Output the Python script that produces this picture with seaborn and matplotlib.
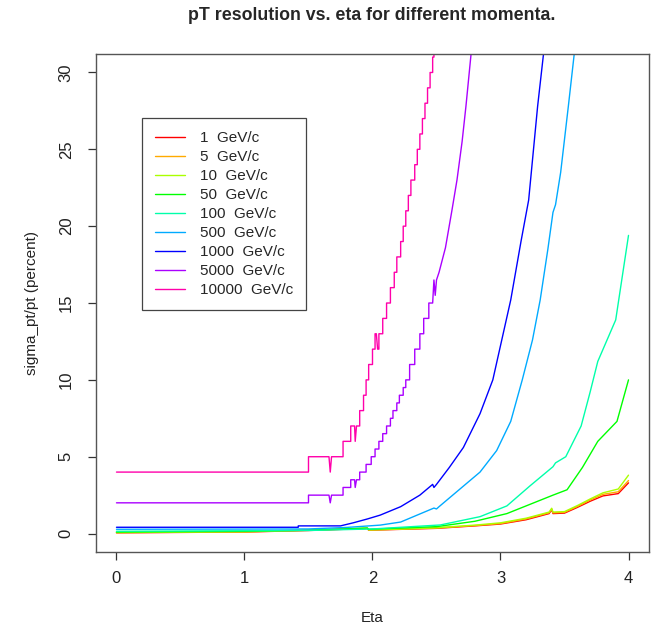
import matplotlib
matplotlib.use("Agg")
import matplotlib.pyplot as plt
import seaborn as sns

# -----------------------------------------------------------------------------
# DATA
# -----------------------------------------------------------------------------
momenta = [1, 5, 10, 50, 100, 500, 1000, 5000, 10000]
colors = ["#FF0000", "#FFAA00", "#AAFF00", "#00FF00", "#00FFAA",
          "#00AAFF", "#0000FF", "#AA00FF", "#FF00AA"]

eta_1 = [0.0, 1.0, 1.5, 1.96, 1.97, 2.2, 2.5, 2.8, 3.0, 3.2, 3.38, 3.4, 3.41,
         3.5, 3.6, 3.7, 3.8, 3.92, 4.0]
val_1 = [0.05, 0.1, 0.2, 0.33, 0.22, 0.27, 0.34, 0.5, 0.62, 0.9, 1.3, 1.55, 1.3,
         1.33, 1.7, 2.1, 2.45, 2.6, 3.3]

eta_5 = [0.0, 1.0, 1.5, 1.96, 1.97, 2.2, 2.5, 2.8, 3.0, 3.2, 3.38, 3.4, 3.41,
         3.5, 3.6, 3.7, 3.8, 3.92, 4.0]
val_5 = [0.06, 0.11, 0.21, 0.34, 0.23, 0.28, 0.36, 0.52, 0.65, 0.95, 1.35, 1.6, 1.35,
         1.38, 1.76, 2.18, 2.55, 2.72, 3.45]

eta_10 = [0.0, 1.0, 1.5, 1.96, 1.97, 2.2, 2.5, 2.8, 3.0, 3.2, 3.38, 3.4, 3.41,
          3.5, 3.6, 3.7, 3.8, 3.92, 4.0]
val_10 = [0.07, 0.12, 0.22, 0.35, 0.24, 0.29, 0.38, 0.55, 0.7, 1.0, 1.4, 1.65, 1.4,
          1.43, 1.82, 2.25, 2.65, 2.9, 3.8]

eta_50 = [0.0, 1.0, 1.5, 1.96, 1.97, 2.5, 2.8, 3.05, 3.23, 3.41, 3.52, 3.64,
          3.76, 3.91, 4.0]
val_50 = [0.1, 0.15, 0.22, 0.36, 0.28, 0.45, 0.8, 1.3, 1.9, 2.5, 2.85, 4.3,
          6.0, 7.3, 10.0]

eta_100 = [0.0, 1.5, 2.0, 2.53, 2.84, 3.05, 3.23, 3.41, 3.43, 3.51, 3.63, 3.7,
           3.76, 3.9, 4.0]
val_100 = [0.15, 0.2, 0.3, 0.56, 1.1, 1.8, 3.1, 4.35, 4.6, 5.0, 7.0, 9.2,
           11.2, 13.9, 19.4]

eta_500 = [0.0, 1.5, 1.8, 2.06, 2.22, 2.48, 2.5, 2.52, 2.84, 2.97, 3.08, 3.17,
           3.25, 3.31, 3.37, 3.41, 3.43, 3.47, 3.53, 3.58]
val_500 = [0.28, 0.3, 0.4, 0.55, 0.75, 1.66, 1.6, 1.75, 4.0, 5.4, 7.3, 10.0,
           12.6, 15.2, 18.5, 20.9, 21.4, 23.5, 27.8, 31.5]

eta_1000 = [0.0, 1.42, 1.42, 1.75, 1.85, 1.96, 2.06, 2.22, 2.37, 2.47, 2.48,
            2.5, 2.6, 2.71, 2.84, 2.94, 3.08, 3.16, 3.22, 3.29, 3.34]
val_1000 = [0.41, 0.41, 0.5, 0.5, 0.7, 0.95, 1.2, 1.75, 2.5, 3.2, 3.0,
            3.2, 4.3, 5.6, 7.8, 10.0, 15.2, 19.0, 21.7, 27.8, 31.5]

eta_5000 = [0.0, 1.5, 1.5, 1.66, 1.67, 1.68, 1.77, 1.77, 1.83, 1.83, 1.86, 1.865,
            1.875, 1.9, 1.9, 1.95, 1.95, 1.99, 1.99, 2.02, 2.02, 2.05, 2.05,
            2.08, 2.08, 2.11, 2.11, 2.14, 2.14, 2.16, 2.16, 2.19, 2.19, 2.21,
            2.21, 2.24, 2.24, 2.26, 2.26, 2.29, 2.29, 2.33, 2.33, 2.37, 2.37,
            2.40, 2.40, 2.44, 2.44, 2.47, 2.48, 2.49, 2.50, 2.52, 2.57, 2.62,
            2.66, 2.70, 2.73, 2.77, 2.78]
val_5000 = [2.0, 2.0, 2.5, 2.5, 2.0, 2.5, 2.5, 3.0, 3.0, 3.5, 3.5, 3.0,
            3.5, 3.5, 4.0, 4.0, 4.5, 4.5, 5.0, 5.0, 5.5, 5.5, 6.0,
            6.0, 6.5, 6.5, 7.0, 7.0, 7.5, 7.5, 8.0, 8.0, 8.5, 8.5,
            9.0, 9.0, 9.5, 9.5, 10.0, 10.0, 11.0, 11.0, 12.0, 12.0, 13.0,
            13.0, 14.0, 14.0, 15.0, 15.0, 16.5, 15.5, 16.5, 17.0, 18.6, 21.0,
            23.0, 25.5, 27.8, 31.2, 32.0]

eta_10000 = [0.0, 1.5, 1.5, 1.66, 1.67, 1.68, 1.77, 1.77, 1.83, 1.83, 1.86, 1.865,
             1.875, 1.9, 1.9, 1.93, 1.93, 1.95, 1.95, 1.97, 1.97, 2.0, 2.0,
             2.02, 2.02, 2.03, 2.04, 2.05, 2.05, 2.08, 2.08, 2.11, 2.11, 2.14,
             2.14, 2.17, 2.17, 2.19, 2.19, 2.22, 2.22, 2.24, 2.24, 2.26, 2.26,
             2.28, 2.28, 2.30, 2.30, 2.33, 2.33, 2.35, 2.35, 2.37, 2.37, 2.39,
             2.39, 2.41, 2.41, 2.43, 2.43, 2.45, 2.45, 2.47, 2.47, 2.48, 2.48]
val_10000 = [4.0, 4.0, 5.0, 5.0, 4.0, 5.0, 5.0, 6.0, 6.0, 7.0, 7.0, 6.0,
             7.0, 7.0, 8.0, 8.0, 9.0, 9.0, 10.0, 10.0, 11.0, 11.0, 12.0,
             12.0, 13.0, 13.0, 12.0, 12.0, 13.0, 13.0, 14.0, 14.0, 15.0, 15.0,
             16.0, 16.0, 17.0, 17.0, 18.0, 18.0, 19.0, 19.0, 20.0, 20.0, 21.0,
             21.0, 22.0, 22.0, 23.0, 23.0, 24.0, 24.0, 25.0, 25.0, 26.0, 26.0,
             27.0, 27.0, 28.0, 28.0, 29.0, 29.0, 30.0, 30.0, 31.0, 31.0, 32.0]

curves = [(eta_1, val_1), (eta_5, val_5), (eta_10, val_10), (eta_50, val_50),
          (eta_100, val_100), (eta_500, val_500), (eta_1000, val_1000),
          (eta_5000, val_5000), (eta_10000, val_10000)]

x_ticks = [0, 1, 2, 3, 4]
y_ticks = [0, 5, 10, 15, 20, 25, 30]

# -----------------------------------------------------------------------------
# STYLE
# -----------------------------------------------------------------------------
sns.set_theme(style="white")
plt.rcParams["font.family"] = ["Liberation Sans", "DejaVu Sans"]
plt.rcParams["axes.edgecolor"] = "#555555"
plt.rcParams["axes.linewidth"] = 1.0

fig = plt.figure(figsize=(6.58, 6.29), dpi=100)
ax = fig.add_axes([0.1459, 0.1224, 0.8404, 0.7917])

# -----------------------------------------------------------------------------
# PLOT
# -----------------------------------------------------------------------------
for p, col, (xs, ys) in zip(momenta, colors, curves):
    sns.lineplot(x=xs, y=ys, color=col, linewidth=1.0, sort=False,
                 estimator=None, label=f"{p}  GeV/c", ax=ax)

ax.set_xlim(-0.16, 4.16)
ax.set_ylim(-1.2, 31.2)
ax.set_xticks(x_ticks)
ax.set_yticks(y_ticks)
ax.tick_params(axis="both", direction="out", length=6, width=0.9,
               color="#333333", labelsize=12, labelcolor="#222222",
               bottom=True, left=True)
ax.tick_params(axis="x", pad=8)
ax.tick_params(axis="y", pad=10)
for lab in ax.get_yticklabels():
    lab.set_rotation(90)
    lab.set_va("center")

ax.set_xlabel("Eta", fontsize=11, labelpad=18, color="#222222")
ax.set_ylabel("sigma_pt/pt (percent)", fontsize=11, labelpad=14, color="#222222")
# title centred over the plot region, as in the reference
fig.text(0.5656, 0.976, "pT resolution vs. eta for different momenta.",
         fontsize=12.8, fontweight="bold", ha="center", va="center")

leg = ax.legend(loc="upper left", bbox_to_anchor=(0.0832, 0.8715),
                borderaxespad=0, fontsize=11.0, labelspacing=0.33,
                handlelength=1.95, handletextpad=1.0, borderpad=0.85,
                frameon=True, fancybox=False, framealpha=1,
                edgecolor="#444444")
leg.get_frame().set_linewidth(0.9)

plt.savefig("out.png", dpi=100)
